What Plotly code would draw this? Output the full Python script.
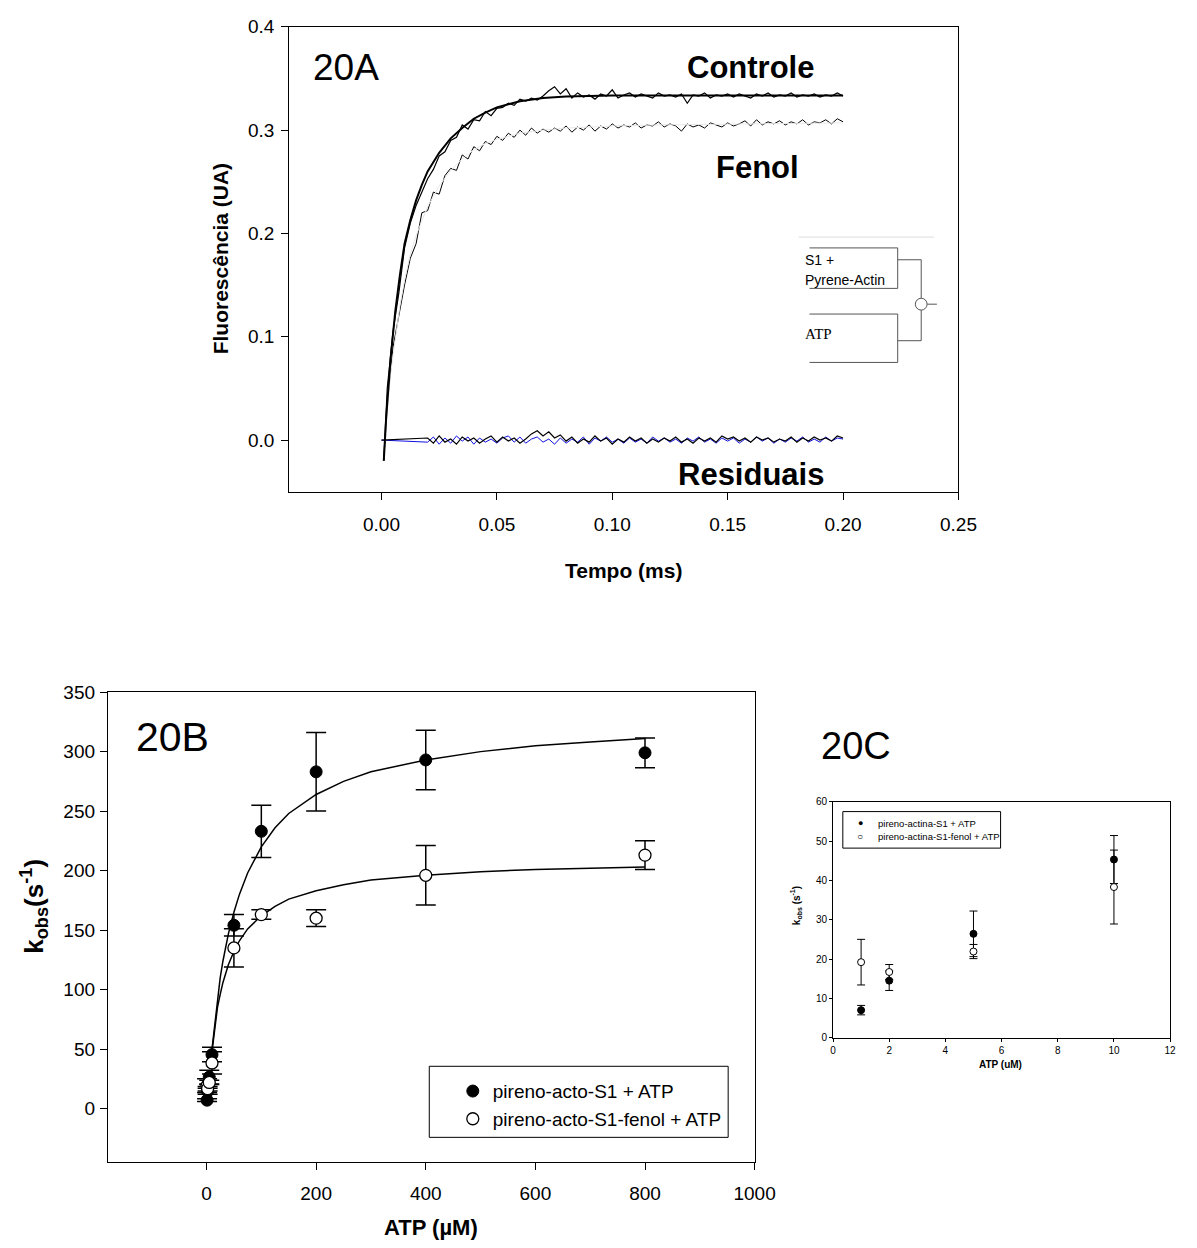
import plotly.graph_objects as go

W, H = 1197, 1248
FONT = "Arial, Liberation Sans, sans-serif"

# ---------------- Panel 20A : transients ----------------
T_STEP = 0.0025
t_fit = [0.001, 0.002, 0.004, 0.006, 0.008, 0.010, 0.0125, 0.015, 0.0175, 0.02, 0.025, 0.03,
         0.035, 0.04, 0.045, 0.05, 0.055, 0.06, 0.07, 0.08, 0.09, 0.10, 0.12, 0.15, 0.2]
controle_fit = [-0.02, 0.02, 0.08, 0.125, 0.16, 0.19, 0.213, 0.232, 0.247, 0.26, 0.278, 0.292,
                0.302, 0.311, 0.317, 0.322, 0.325, 0.328, 0.331, 0.3325, 0.333, 0.3335, 0.3335, 0.3335, 0.3335]
fenol_fit = [-0.02, 0.015, 0.065, 0.10, 0.13, 0.155, 0.18, 0.198, 0.213, 0.226, 0.246, 0.261,
             0.272, 0.281, 0.287, 0.291, 0.294, 0.297, 0.300, 0.302, 0.303, 0.304, 0.305, 0.306, 0.307]

controle_data = [0.05, 0.105, 0.142, 0.186, 0.21, 0.227, 0.24, 0.253, 0.262, 0.275,
                 0.279, 0.29, 0.293, 0.305, 0.301, 0.31, 0.309, 0.318, 0.314, 0.321,
                 0.322, 0.326, 0.324, 0.33, 0.328, 0.331, 0.329, 0.333, 0.338, 0.342,
                 0.335, 0.34, 0.331, 0.336, 0.332, 0.334, 0.33, 0.335, 0.333, 0.339,
                 0.331, 0.334, 0.336, 0.332, 0.335, 0.333, 0.331, 0.336, 0.333, 0.334,
                 0.332, 0.335, 0.326, 0.334, 0.333, 0.336, 0.331, 0.334, 0.333, 0.335,
                 0.332, 0.335, 0.333, 0.331, 0.335, 0.333, 0.336, 0.332, 0.334, 0.333,
                 0.336, 0.332, 0.334, 0.333, 0.335, 0.332, 0.334, 0.333, 0.336, 0.333]
fenol_data = [0.035, 0.09, 0.122, 0.15, 0.176, 0.19, 0.22, 0.222, 0.24, 0.238,
              0.256, 0.263, 0.261, 0.276, 0.272, 0.284, 0.28, 0.289, 0.286, 0.294,
              0.29, 0.297, 0.293, 0.3, 0.295, 0.302, 0.297, 0.301, 0.298, 0.302,
              0.299, 0.304, 0.298, 0.303, 0.3, 0.305, 0.299, 0.304, 0.301, 0.306,
              0.302, 0.305, 0.303, 0.307, 0.302, 0.305, 0.304, 0.308, 0.303, 0.306,
              0.304, 0.299, 0.306, 0.303, 0.305, 0.302, 0.307, 0.305, 0.303, 0.307,
              0.304, 0.306, 0.309, 0.304, 0.31, 0.305, 0.308, 0.306, 0.309, 0.305,
              0.308, 0.306, 0.31, 0.305, 0.308, 0.307, 0.31, 0.306, 0.311, 0.308]

res_black = [0.002, -0.003, 0.004, -0.002, 0.001, -0.004, 0.003, -0.001, 0.002, -0.003,
             0.001, 0.004, -0.002, 0.003, -0.001, 0.002, -0.003, 0.001, 0.006, 0.009,
             0.004, 0.008, 0.002, 0.005, -0.001, 0.003, -0.003, 0.001, -0.002, 0.004,
             -0.001, 0.002, -0.004, 0.001, -0.002, 0.003, -0.001, 0.002, -0.003, 0.001,
             -0.002, 0.002, -0.001, 0.003, -0.002, 0.001, -0.003, 0.002, -0.001, 0.002,
             -0.002, 0.004, 0.001, 0.003, -0.001, 0.002, -0.002, 0.003, 0.0, 0.002,
             -0.002, 0.001, -0.001, 0.003, -0.002, 0.002, -0.001, 0.003, 0.0, 0.002,
             -0.001, 0.004, 0.002]
res_blue = [-0.002, 0.003, -0.004, 0.002, -0.003, 0.004, -0.001, 0.003, -0.004, 0.002,
            -0.002, 0.001, -0.003, 0.002, 0.004, -0.002, 0.003, -0.003, 0.001, 0.003,
            -0.002, 0.001, -0.004, 0.002, -0.003, 0.001, -0.002, 0.003, -0.004, 0.002,
            -0.001, 0.003, -0.002, 0.001, -0.003, 0.002, -0.002, 0.001, -0.003, 0.003,
            -0.001, 0.002, -0.002, 0.001, -0.003, 0.002, -0.001, 0.003, -0.002, 0.001,
            -0.003, 0.002, -0.001, 0.002, -0.003, 0.001, -0.002, 0.003, -0.001, 0.002,
            -0.003, 0.001, -0.002, 0.002, -0.001, 0.003, -0.002, 0.001, -0.002, 0.003,
            -0.001, 0.002, 0.001]

# ---------------- Panels 20B / 20C : kobs vs ATP ----------------
atp = [1, 2, 5, 10, 50, 100, 200, 400, 800]
k_ctrl = [7.0, 14.5, 26.4, 45.3, 154, 233, 283, 293, 299]
k_ctrl_err = [1.2, 2.5, 5.8, 6.1, 9, 22, 33, 25, 12.5]
k_fenol = [19.2, 16.7, 21.9, 38.3, 135, 163, 160, 196, 213]
k_fenol_err = [5.8, 1.9, 1.8, 9.4, 16, 4, 7, 25, 12]

atp_fit = [10, 15, 20, 25, 30, 40, 50, 60, 75, 100, 125, 150, 200, 250, 300, 400, 500, 600, 700, 800]
ctrl_fit = [50, 70, 92, 110, 124, 147, 165, 180, 198, 220, 236, 248, 264, 275, 283, 293, 300, 305, 308, 311]
fenol_fit_b = [48, 68, 85, 96, 106, 121, 132, 141, 151, 162, 170, 176, 183, 188, 192, 196, 199, 201, 202, 203]

N_LOW = 4  # points shown in 20C (ATP <= 10 uM)
legend_c_labels = ["pireno-actina-S1 + ATP", "pireno-actina-S1-fenol + ATP"]

# ---------------- figure ----------------
def px_x(x):
    return x / W


def px_y(y):
    return 1 - y / H


fig = go.Figure()

# Panel A traces
t_data = [0.001] + [round(T_STEP * (i + 1), 4) for i in range(len(controle_data))]
t_res = [0.0] + [round(0.02 + T_STEP * i, 4) for i in range(len(res_black))]
fig.add_trace(go.Scatter(x=t_res, y=[0.0] + res_blue, mode="lines",
                         line=dict(color="#1010e0", width=1), xaxis="x", yaxis="y", showlegend=False))
fig.add_trace(go.Scatter(x=t_res, y=[0.0] + res_black, mode="lines",
                         line=dict(color="black", width=1.2), xaxis="x", yaxis="y", showlegend=False))
fig.add_trace(go.Scatter(x=t_data, y=[-0.02] + fenol_data, mode="lines",
                         line=dict(color="black", width=1), xaxis="x", yaxis="y", showlegend=False))
fig.add_trace(go.Scatter(x=t_fit, y=fenol_fit, mode="lines",
                         line=dict(color="#e8e8e8", width=1), xaxis="x", yaxis="y", showlegend=False))
fig.add_trace(go.Scatter(x=t_data, y=[-0.02] + controle_data, mode="lines",
                         line=dict(color="black", width=1.2), xaxis="x", yaxis="y", showlegend=False))
fig.add_trace(go.Scatter(x=t_fit, y=controle_fit, mode="lines",
                         line=dict(color="black", width=2), xaxis="x", yaxis="y", showlegend=False))

# Panel B traces
fig.add_trace(go.Scatter(x=atp_fit, y=ctrl_fit, mode="lines", line=dict(color="black", width=1.5),
                         xaxis="x2", yaxis="y2", showlegend=False))
fig.add_trace(go.Scatter(x=atp_fit, y=fenol_fit_b, mode="lines", line=dict(color="black", width=1.5),
                         xaxis="x2", yaxis="y2", showlegend=False))
fig.add_trace(go.Scatter(x=atp, y=k_ctrl, mode="markers", name="pireno-acto-S1 + ATP",
                         marker=dict(symbol="circle", size=12, color="black", line=dict(color="black", width=1)),
                         error_y=dict(type="data", array=k_ctrl_err, color="black", thickness=1.5, width=10),
                         xaxis="x2", yaxis="y2", legend="legend"))
fig.add_trace(go.Scatter(x=atp, y=k_fenol, mode="markers", name="pireno-acto-S1-fenol + ATP",
                         marker=dict(symbol="circle", size=12, color="white", line=dict(color="black", width=1.3)),
                         error_y=dict(type="data", array=k_fenol_err, color="black", thickness=1.5, width=10),
                         xaxis="x2", yaxis="y2", legend="legend"))

# Panel C traces
fig.add_trace(go.Scatter(x=atp[:N_LOW], y=k_ctrl[:N_LOW], mode="markers", showlegend=False,
                         marker=dict(symbol="circle", size=7, color="black", line=dict(color="black", width=1)),
                         error_y=dict(type="data", array=k_ctrl_err[:N_LOW], color="black", thickness=1, width=4),
                         xaxis="x3", yaxis="y3"))
fig.add_trace(go.Scatter(x=atp[:N_LOW], y=k_fenol[:N_LOW], mode="markers", showlegend=False,
                         marker=dict(symbol="circle", size=7, color="white", line=dict(color="black", width=1)),
                         error_y=dict(type="data", array=k_fenol_err[:N_LOW], color="black", thickness=1, width=4),
                         xaxis="x3", yaxis="y3"))


def axis(domain, rng, dtick, fsize, ticklen, fmt=None, anchor=None, standoff=0):
    d = dict(domain=domain, range=rng, dtick=dtick, tick0=0, showline=True, linecolor="black",
             linewidth=1, mirror=True, ticks="outside", ticklen=ticklen, tickcolor="black",
             tickwidth=1, showgrid=False, zeroline=False, ticklabelstandoff=standoff,
             tickfont=dict(family=FONT, size=fsize, color="black"), anchor=anchor)
    if fmt:
        d["tickformat"] = fmt
    return d


fig.update_layout(
    width=W, height=H, autosize=False,
    margin=dict(l=0, r=0, t=0, b=0),
    paper_bgcolor="white", plot_bgcolor="white",
    xaxis=axis([px_x(292), px_x(975)], [-0.04, 0.25], 0.05, 19, 7, ".2f", "y", 8),
    yaxis=axis([px_y(488), px_y(17)], [-0.05, 0.4], 0.1, 19, 7, ".1f", "x", 3),
    xaxis2=axis([px_x(107), px_x(767)], [-180, 1000], 200, 19, 7, None, "y2", 7),
    yaxis2=axis([px_y(1167), px_y(691)], [-45, 350], 50, 19, 7, None, "x2", 1),
    xaxis3=axis([px_x(847), px_x(1191)], [0, 12], 2, 10, 3, None, "y3"),
    yaxis3=axis([px_y(1041), px_y(802)], [0, 60], 10, 10, 3, None, "x3"),
    legend=dict(x=px_x(459), y=px_y(1076), xanchor="left", yanchor="top",
                borderwidth=0, bgcolor="rgba(0,0,0,0)",
                font=dict(family=FONT, size=19, color="black"), tracegroupgap=0,
                itemwidth=30),
)

ann = []


def text(x, y, s, size, bold=False, angle=0, xanchor="center", family=FONT):
    ann.append(dict(x=px_x(x), y=px_y(y), xref="paper", yref="paper", text=f"<b>{s}</b>" if bold else s,
                    showarrow=False, xanchor=xanchor, yanchor="middle", textangle=angle,
                    font=dict(family=family, size=size, color="black")))


# Panel A labels
text(350, 58, "20A", 37)
text(763, 58, "Controle", 31, bold=True)
text(770, 160, "Fenol", 31, bold=True)
text(763, 471, "Residuais", 31, bold=True)
text(633, 568, "Tempo (ms)", 21, bold=True)
text(222, 252, "Fluorescência (UA)", 21, bold=True, angle=-90)
text(816, 253, "S1 +", 14, xanchor="left")
text(816, 273, "Pyrene-Actin", 14, xanchor="left")
text(816, 328, "ATP", 15, xanchor="left", family="Liberation Serif, Times New Roman, serif")
# Panel B labels
text(173, 736, "20B", 41)
text(437, 1233, "ATP (µM)", 22, bold=True)
text(32, 908, "k<sub>obs</sub>(s<sup>-1</sup>)", 26, bold=True, angle=-90)
# Panel C labels
text(870, 746, "20C", 38)
text(1018, 1068, "ATP (uM)", 10, bold=True)
text(809, 907, "k<sub>obs</sub> (s<sup>-1</sup>)", 10, bold=True, angle=-90)
# Panel C legend (drawn as text entries inside a box)
text(875, 824, "●", 9)
text(875, 837, "○", 10)
text(891, 824, legend_c_labels[0], 9.5, xanchor="left")
text(891, 837, legend_c_labels[1], 9.5, xanchor="left")

fig.update_layout(annotations=ann)

# inset mixing diagram (stopped-flow scheme) and legend boxes
shapes = []
LC = "#555555"


def seg(x0, y0, x1, y1, color=LC, width=1):
    shapes.append(dict(type="line", xref="paper", yref="paper", x0=px_x(x0), y0=px_y(y0),
                       x1=px_x(x1), y1=px_y(y1), line=dict(color=color, width=width)))


seg(812, 230, 950, 230, color="#dddddd")
seg(823, 241, 913, 241)
seg(913, 241, 913, 282)
seg(823, 282, 913, 282)
seg(913, 253, 937, 253)
seg(937, 253, 937, 292)
seg(943, 298, 953, 298)
seg(937, 304, 937, 335)
seg(913, 335, 937, 335)
seg(823, 308, 913, 308)
seg(913, 308, 913, 357)
seg(823, 357, 913, 357)
shapes.append(dict(type="circle", xref="paper", yref="paper", x0=px_x(931), x1=px_x(943),
                   y0=px_y(304), y1=px_y(292), line=dict(color=LC, width=1), fillcolor="white"))
# legend frame of 20B
shapes.append(dict(type="rect", xref="paper", yref="paper", x0=px_x(435), x1=px_x(740),
                   y0=px_y(1142), y1=px_y(1070), line=dict(color="black", width=1),
                   fillcolor="white", layer="above"))
# legend frame of 20C
shapes.append(dict(type="rect", xref="paper", yref="paper", x0=px_x(857), x1=px_x(1018),
                   y0=px_y(849), y1=px_y(812), line=dict(color="black", width=1), layer="below"))
fig.update_layout(shapes=shapes)

fig.write_html("out.html", config={"displayModeBar": False},
               post_script="document.body.style.margin='0px';document.body.style.overflow='hidden';")
